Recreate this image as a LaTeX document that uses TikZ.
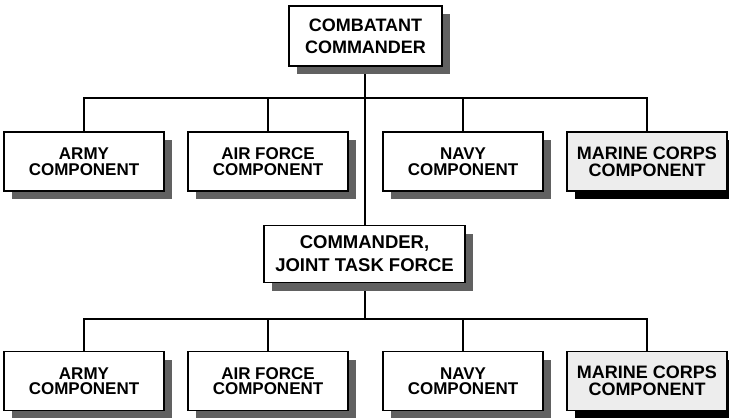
\documentclass[tikz,border=0pt]{standalone}
\usepackage{fontspec}
\setmainfont{Liberation Sans}
\usetikzlibrary{shadows,backgrounds}

\begin{document}
\begin{tikzpicture}[x=1pt,y=-1pt,
		unit/.style={draw,line width=1.8pt,fill=white,align=center,
			minimum width=160pt,minimum height=59pt,inner sep=0pt,
			font=\bfseries\fontsize{17}{15.5}\selectfont,
			drop shadow={shadow xshift=8pt,shadow yshift=-8pt,fill=black!62,opacity=1}},
		marine/.style={unit,fill=black!7,
			font=\bfseries\fontsize{18}{16.8}\selectfont,
			drop shadow={shadow xshift=8pt,shadow yshift=-8pt,fill=black,opacity=1}},
		link/.style={line width=1.6pt}]
		\useasboundingbox (0,0) rectangle (729,418);
		\node[unit,minimum width=153pt,minimum height=60pt,line width=2.2pt,
			font=\bfseries\fontsize{18}{22}\selectfont] (cc) at (365.5,36) {COMBATANT\\COMMANDER};
		\node[unit,minimum width=201pt,minimum height=57pt,
			font=\bfseries\fontsize{18.5}{23}\selectfont] (jtf) at (364.5,254) {COMMANDER,\\JOINT TASK FORCE};
		\foreach \row/\y in {1/161.5,2/381} {
			\node[unit] (c\row-1) at (84,\y) {ARMY\\COMPONENT};
			\node[unit] (c\row-2) at (268,\y) {AIR FORCE\\COMPONENT};
			\node[unit] (c\row-3) at (463,\y) {NAVY\\COMPONENT};
			\node[marine] (c\row-4) at (647,\y) {MARINE CORPS\\COMPONENT};
		};
		\coordinate (bar1) at (365,98);
		\coordinate (bar2) at (365,319);
		\begin{pgfonlayer}{background}
			\draw[link] (cc.south -| bar1) -- (jtf.north -| bar1);
			\draw[link] (jtf.south -| bar2) -- (bar2);
			\foreach \row in {1,2} {
				\draw[link] (c\row-1.north) |- (bar\row) -| (c\row-4.north);
				\foreach \x in {2,3}{
					\draw[link] (c\row-\x.north) -- (c\row-\x.north |- bar\row);
				};
			};
		\end{pgfonlayer}
	\end{tikzpicture}
\end{document}
